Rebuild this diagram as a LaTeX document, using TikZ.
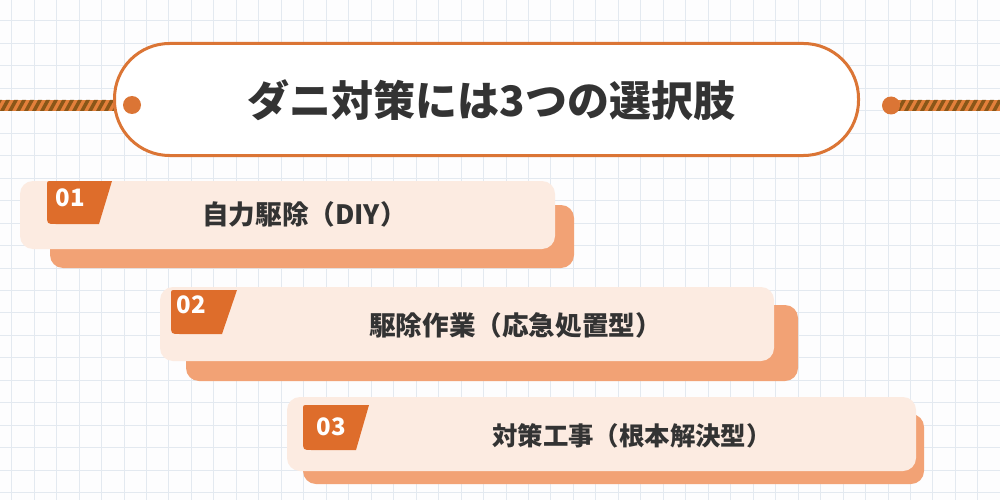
\documentclass[tikz,border=0pt]{standalone}
\usepackage{fontspec}
\newfontfamily\jp{Noto Sans CJK JP}
\definecolor{bgc}{HTML}{FDFDFE}
\definecolor{gridc}{HTML}{E3E9F0}
\definecolor{orgc}{HTML}{DB7535}
\definecolor{badgec}{HTML}{DE6D2B}
\definecolor{frontc}{HTML}{FCEBE1}
\definecolor{shadc}{HTML}{F2A275}
\definecolor{ropeo}{HTML}{E3803B}
\definecolor{ropeb}{HTML}{8A5618}
\definecolor{txtc}{HTML}{333333}
\tikzset{
  frontcard/.style={fill=frontc, rounded corners=13pt, inner sep=0pt},
  shadcard/.style={fill=shadc, rounded corners=13pt, inner sep=0pt},
  badgeshape/.style={fill=badgec},
  numtext/.style={text=white, font=\jp\bfseries\fontsize{24}{24}\selectfont, inner sep=0pt},
  cardtext/.style={text=txtc, font=\jp\bfseries\fontsize{26.6}{26.6}\selectfont, inner sep=0pt},
  cardtextsmall/.style={cardtext, font=\jp\bfseries\fontsize{25.4}{25.4}\selectfont},
  titletext/.style={text=txtc, font=\jp\bfseries\fontsize{42}{42}\selectfont, inner sep=0pt},
  enddot/.style={circle, fill=orgc, minimum size=18pt, inner sep=0pt},
}
\begin{document}
\begin{tikzpicture}[x=1pt,y=-1pt]
\useasboundingbox (0,0) rectangle (1000,500);
\fill[bgc] (0,0) rectangle (1000,500);
% grid
\foreach \i in {0,...,44} \draw[gridc, line width=1pt] ({11.7+\i*22.47},0) -- ++(0,500);
\foreach \j in {0,...,22} \draw[gridc, line width=1pt] (0,{-1.6+\j*22.47}) -- ++(1000,0);

% ropes
\begin{scope}
  \clip (0,100) rectangle (115,111);
  \fill[ropeo] (0,100) rectangle (115,111);
  \foreach \k in {-2,...,16} \fill[ropeb] ({\k*8},111) -- ++(4,0) -- ++(6,-11) -- ++(-4,0) -- cycle;
\end{scope}
\begin{scope}
  \clip (891,100) rectangle (1000,111);
  \fill[ropeo] (891,100) rectangle (1000,111);
  \foreach \k in {110,...,128} \fill[ropeb] ({\k*8},111) -- ++(4,0) -- ++(6,-11) -- ++(-4,0) -- cycle;
\end{scope}
\coordinate (ropeL) at (0,105.5);
\coordinate (ropeR) at (1000,105.5);

% title pill
\node[draw=orgc, line width=3pt, fill=white, rounded corners=55pt, minimum width=744pt, minimum height=112pt, inner sep=0pt] (title) at (486.5,99.5) {};
\node[titletext] (titlelabel) at (491.5,100) {ダニ対策には3つの選択肢};
\node[enddot] (ldot) at (132,105) {};
\node[enddot] (rdot) at (891,105.5) {};

% card 1
\node[shadcard, minimum width=524pt, minimum height=63pt] (s1) at (312,236.5) {};
\node[frontcard, minimum width=535pt, minimum height=68pt] (c1) at (287.5,215) {};
\fill[badgeshape] (52,181) -- (112,181) -- (99,224) -- (56,224) .. controls (47,224) .. (47,215) -- (47,186) .. controls (47,181) .. cycle;
\node[numtext] (n1) at (70,197.5) {01};
\node[cardtext] (t1) at (304.5,214.5) {自力駆除（DIY）};

% card 2
\node[shadcard, minimum width=612pt, minimum height=76pt] (s2) at (492,343) {};
\node[frontcard, minimum width=614pt, minimum height=74pt] (c2) at (467,324) {};
\fill[badgeshape] (176,290) -- (237,290) -- (222,334) -- (180,334) .. controls (171,334) .. (171,325) -- (171,295) .. controls (171,290) .. cycle;
\node[numtext] (n2) at (191,305) {02};
\node[cardtext] (t2) at (515.6,325) {駆除作業（応急処置型）};

% card 3
\node[shadcard, minimum width=621pt, minimum height=70pt] (s3) at (613.5,449) {};
\node[frontcard, minimum width=629pt, minimum height=74pt] (c3) at (601.5,434) {};
\fill[badgeshape] (308,405) -- (369,405) -- (356,450) -- (312,450) .. controls (303,450) .. (303,441) -- (303,410) .. controls (303,405) .. cycle;
\node[numtext] (n3) at (331,427) {03};
\node[cardtextsmall] (t3) at (632,435.5) {対策工事（根本解決型）};
\end{tikzpicture}
\end{document}
